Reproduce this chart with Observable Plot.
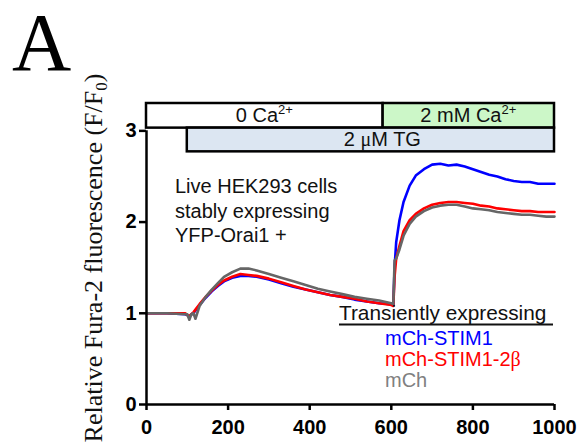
<!DOCTYPE html>
<html><head><meta charset="utf-8">
<script src="https://cdn.jsdelivr.net/npm/d3@7"></script>
<script src="https://cdn.jsdelivr.net/npm/@observablehq/plot@0.6"></script>
<style>body{margin:0;background:#fff} #chart{width:579px;height:448px}</style>
</head><body><div id="chart"></div>
<script>
// ---- data ----
const time = [0, 50, 95, 100, 105, 110, 115, 120, 130, 145, 160, 175, 190, 210, 230, 250, 270, 300, 330, 360, 390, 420, 450, 480, 510, 540, 570, 600, 605, 608, 612, 620, 630, 645, 660, 680, 700, 720, 740, 760, 780, 800, 820, 840, 860, 880, 900, 920, 940, 960, 980, 1000];
const stim1 = [1.0, 1.0, 0.99, 0.98, 0.96, 0.99, 1.0, 1.03, 1.09, 1.17, 1.24, 1.30, 1.35, 1.39, 1.41, 1.41, 1.40, 1.37, 1.33, 1.29, 1.26, 1.23, 1.20, 1.18, 1.15, 1.13, 1.11, 1.10, 1.09, 1.50, 1.78, 2.02, 2.22, 2.40, 2.51, 2.58, 2.63, 2.64, 2.62, 2.63, 2.61, 2.58, 2.55, 2.52, 2.50, 2.47, 2.45, 2.44, 2.44, 2.42, 2.42, 2.42];
const stim1_2b = [1.0, 1.0, 1.0, 0.98, 0.97, 0.99, 1.01, 1.04, 1.10, 1.18, 1.25, 1.31, 1.36, 1.40, 1.43, 1.42, 1.41, 1.38, 1.34, 1.30, 1.26, 1.23, 1.20, 1.18, 1.16, 1.13, 1.11, 1.09, 1.08, 1.40, 1.60, 1.74, 1.90, 2.02, 2.09, 2.15, 2.19, 2.21, 2.22, 2.22, 2.21, 2.20, 2.18, 2.17, 2.15, 2.14, 2.13, 2.12, 2.12, 2.11, 2.11, 2.11];
const mch = [1.0, 1.0, 0.99, 0.99, 0.93, 0.99, 1.0, 0.94, 1.08, 1.18, 1.26, 1.33, 1.40, 1.45, 1.49, 1.49, 1.47, 1.43, 1.39, 1.35, 1.31, 1.27, 1.24, 1.21, 1.18, 1.16, 1.14, 1.11, 1.10, 1.58, 1.60, 1.70, 1.85, 1.98, 2.06, 2.12, 2.16, 2.18, 2.19, 2.19, 2.17, 2.15, 2.14, 2.13, 2.11, 2.10, 2.09, 2.08, 2.08, 2.07, 2.06, 2.06];
const seriesNames = ["mCh-STIM1", "mCh-STIM1-2β", "mCh"];
const seriesColors = ["#0000ff", "#ff0000", "#666666"];
const xTicks = [0, 200, 400, 600, 800, 1000];
const yTicks = [0, 1, 2, 3];
const phaseName = ["0 Ca", "2 mM Ca", "2 μM TG"];
const phaseSup = ["2+", "2+", ""];
const phaseStart = [0, 580, 100];
const phaseEnd = [580, 1000, 1000];
const phaseTop = [3.3, 3.3, 3.03];
const phaseBottom = [3.03, 3.03, 2.77];
const phaseFill = ["#ffffff", "#ccf7c8", "#dce6f2"];
const noteLines = ["Live HEK293 cells", "stably expressing", "YFP-Orai1 +"];
const legendTitle = "Transiently expressing";
const yLabel = "Relative Fura-2 fluorescence (F/F";
const panelLetter = "A";

// ---- tables ----
const seriesValues = [stim1, stim1_2b, mch];
const tidy = [];
seriesNames.forEach((s, i) => time.forEach((t, j) => tidy.push({s, t, v: seriesValues[i][j]})));
const phases = phaseName.map((n, i) => ({n, sup: phaseSup[i], x1: phaseStart[i], x2: phaseEnd[i], y1: phaseBottom[i], y2: phaseTop[i], fill: phaseFill[i]}));

const sans = "'Liberation Sans', Arial, Helvetica, sans-serif";
const serif = "'Liberation Serif', 'Times New Roman', serif";

const plot = Plot.plot({
  width: 579, height: 448,
  marginLeft: 146, marginRight: 25, marginTop: 103, marginBottom: 44,
  x: {domain: [0, 1000]},
  y: {domain: [0, 3.3]},
  color: {domain: seriesNames, range: seriesColors},
  style: {fontFamily: sans, background: "white", overflow: "visible"},
  marks: [
    Plot.line(tidy, {x: "t", y: "v", z: "s", stroke: "s", strokeWidth: 2.6}),
    Plot.ruleY([0], {x1: 0, x2: 1000, strokeWidth: 2.5}),
    Plot.ruleX([0], {y1: 0, y2: 3, strokeWidth: 2.5}),
    Plot.axisX({ticks: xTicks, tickSize: 6, tickPadding: 9, strokeWidth: 2.5, fontSize: 20, fontWeight: "bold", tickFormat: "d", label: null}),
    Plot.axisY({ticks: yTicks, tickSize: 7, tickPadding: 3, strokeWidth: 2.5, fontSize: 20, fontWeight: "bold", tickFormat: "d", label: null}),
    Plot.rect(phases, {x1: "x1", x2: "x2", y1: "y1", y2: "y2", fill: d => d.fill, stroke: "black", strokeWidth: 2.5})
  ]
});
document.getElementById("chart").appendChild(plot);

const svg = d3.select(plot);
const xs = plot.scale("x"), ys = plot.scale("y");

// phase labels
phases.forEach((p, i) => {
  const cx = (xs.apply(p.x1) + xs.apply(p.x2)) / 2 + (i === 2 ? 12 : 0);
  const cy = (ys.apply(p.y1) + ys.apply(p.y2)) / 2;
  const t = svg.append("text").attr("x", cx).attr("y", cy + 7).attr("text-anchor", "middle")
    .attr("font-family", sans).attr("font-size", 20).attr("fill", "#111");
  if (p.n.includes("μ")) {
    const parts = p.n.split("μ");
    t.append("tspan").text(parts[0]);
    t.append("tspan").attr("font-family", serif).text("μ");
    t.append("tspan").text(parts[1]);
  } else {
    t.append("tspan").text(p.n);
  }
  if (p.sup) t.append("tspan").attr("font-size", 13).attr("dy", -8).text(p.sup);
});

// note text block
noteLines.forEach((l, i) => {
  svg.append("text").attr("x", 175).attr("y", 193 + i * 24.5).attr("text-anchor", "start").attr("font-family", sans)
    .attr("font-size", 20).attr("fill", "#111").text(l);
});

// legend
svg.append("text").attr("x", 339).attr("y", 320).attr("text-anchor", "start").attr("font-family", sans).attr("font-size", 20.8).attr("fill", "#111").text(legendTitle);
svg.append("line").attr("x1", 339).attr("x2", 553).attr("y1", 324.5).attr("y2", 324.5).attr("stroke", "#111").attr("stroke-width", 2);
const legendColors = ["#0000ff", "#ff0000", "#808080"];
seriesNames.forEach((s, i) => {
  const t = svg.append("text").attr("x", 385).attr("y", 345 + i * 21).attr("text-anchor", "start").attr("font-family", sans)
    .attr("font-size", 20).attr("fill", legendColors[i]);
  if (s.endsWith("β")) {
    t.append("tspan").text(s.slice(0, -1));
    t.append("tspan").attr("font-family", serif).text("β");
  } else t.text(s);
});

// y axis label
const yl = svg.append("text").attr("transform", "translate(102,258) rotate(-90)").attr("text-anchor", "middle")
  .attr("font-family", serif).attr("font-size", 26).attr("fill", "#111");
yl.append("tspan").text(yLabel);
yl.append("tspan").attr("font-size", 17).attr("dy", 5).text("0");
yl.append("tspan").attr("dy", -5).text(")");

// panel letter
svg.append("text").attr("x", 12).attr("y", 70).attr("text-anchor", "start").attr("font-family", serif).attr("font-size", 82).attr("fill", "#000").text(panelLetter);
</script>
</body></html>
